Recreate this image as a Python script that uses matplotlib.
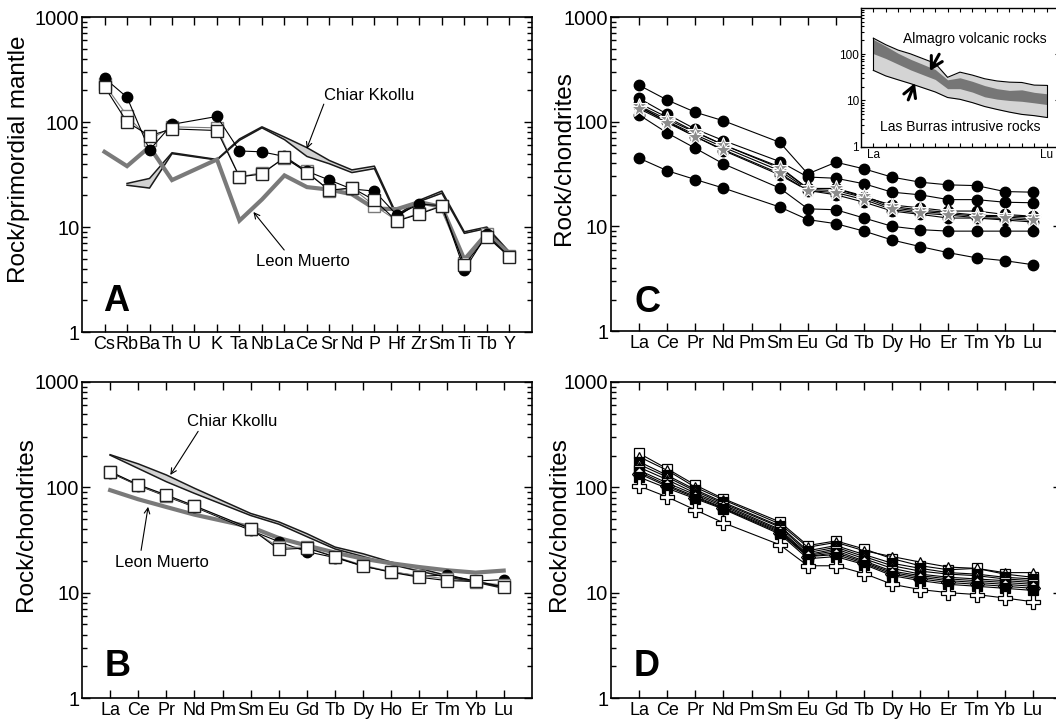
import numpy as np
import matplotlib
matplotlib.use('Agg')
import matplotlib.pyplot as plt
from matplotlib import ticker

plt.rcParams['font.family'] = ['Liberation Sans', 'DejaVu Sans']

N = np.nan

# element order on the x axes
spider_elems = ['Cs', 'Rb', 'Ba', 'Th', 'U', 'K', 'Ta', 'Nb', 'La', 'Ce',
                'Sr', 'Nd', 'P', 'Hf', 'Zr', 'Sm', 'Ti', 'Tb', 'Y']
ree_elems = ['La', 'Ce', 'Pr', 'Nd', 'Pm', 'Sm', 'Eu', 'Gd', 'Tb', 'Dy',
             'Ho', 'Er', 'Tm', 'Yb', 'Lu']

# ---- panel A : rock / primordial mantle
a_circles = [262, 172, 54, 95, N, 113, 53, 52, 47, 34, 28, 23, 22, 13, 16.5, 16, 3.9, 8.5, 5.2]
a_squares1 = [217, 100, 74, 86, N, 83, 30, 32, 46, 33, 22.4, 23.6, 18, 11.4, 13.3, 15.8, 4.35, 8.1, 5.2]
a_squares2 = [228, 115, 68, 90, N, 88, 30, 33, 45, 34, 22, 23.5, 16, 11.5, 13.5, 16, 4.5, 8.5, 5.3]
a_ck_hi = [N, 26, 29, 51, N, 44, 69, 90, 72, 57, 43, 35, 38, 13, 18, 22, 9, 10, 5.8]
a_ck_lo = [N, 25, 23.5, 50, N, 43.5, 67, 88, 68, 47, 40, 33, 36, 12.5, 17.5, 21, 8.7, 9.7, 5.6]
a_leon = [52, 38, 58, 28, N, 44, 11.5, 18.3, 31, 24, 22.7, 20.5, 15, 14.8, 17.3, 15.5, 4.9, 8.7, 5.6]

# ---- panel B : rock / chondrites
b_squares1 = [141, 106, 84.5, 66.8, N, 40.6, 25.7, 26.5, 21.8, 17.9, 15.6, 14, 13, 12.8, 11.4]
b_circles = [138, 104, 82, 65, N, 39, 30.5, 24.5, 21.5, 17.8, 15.8, 14.3, 14.7, 12.9, 13.3]
b_squares2 = [140, 105, 83, 66, N, 40, 27, 27, 22, 18.2, 15.8, 14.5, 13.5, 12.6, 11.8]
b_ck_hi = [204, 167, 131, 98, N, 56.5, 47, 36.3, 27.1, 23.4, 19.5, 17, 14.5, 12.8, 11.2]
b_ck_lo = [202, 151, 113, 87.6, N, 54, 44.7, 34, 26, 22, 18.5, 16, 14, 12.6, 11]
b_leon = [94, 77, 65, 55, N, 42, 33, 28, 24, 21, 19, 17.5, 16.3, 15.5, 16.2]

# ---- panel C : Las Burras intrusive rocks
c_circles = [
    [223, 161, 123, 102, N, 63.5, 31.7, 41, 35.4, 29.5, 26.4, 24.9, 24.5, 21.5, 21.2],
    [167, 118, 85, 66, N, 41.6, 29.6, 28.8, 25.5, 21.2, 20, 18, 18, 17, 16.8],
    [150, 110, 80, 60, N, 37, 23, 23, 19, 16, 15, 14, 14, 13, 12.5],
    [140, 100, 72, 53, N, 31, 22, 20, 17, 14, 13, 12, 12, 11.5, 11],
    [116, 78, 55.7, 39.5, N, 23.2, 14.7, 14.4, 12, 10, 9.3, 9, 9, 9, 9],
    [44.8, 34, 28, 23.2, N, 15.3, 11.6, 10.6, 9, 7.4, 6.4, 5.6, 5.0, 4.7, 4.3],
]
c_stars = [
    [137, 101, 75, 57, N, 34, 22.5, 22, 18.8, 15, 13.9, 13.2, 12.5, 12.3, 11.8],
    [142, 105, 79, 60, N, 36, 23, 23, 19.5, 15.5, 14.3, 13.6, 12.8, 12.6, 12.3],
    [133, 98, 72, 54, N, 32, 22, 21, 18, 14.5, 13.4, 12.8, 12.1, 11.9, 11.4],
]

# ---- panel D : Almagro volcanic rocks
d_series = [
    ([210, 150, 105, 78, N, 47, 28, 31, 26, 21, 18, 16.5, 17, 15, 14], 's', 'white'),
    ([195, 145, 100, 76, N, 45, 27, 30, 25, 22, 19.5, 17.5, 17, 15.5, 15.5], '^', 'white'),
    ([175, 130, 95, 72, N, 43, 25, 28, 23, 19, 17, 15.5, 15, 14, 13.5], 's', 'black'),
    ([165, 125, 92, 70, N, 42, 24, 27, 22, 18, 16, 15, 14.5, 13.5, 13], '^', 'white'),
    ([155, 118, 88, 68, N, 40, 23, 26, 21, 17, 15, 14, 13.5, 13, 12.5], '^', 'black'),
    ([145, 110, 85, 66, N, 39, 22.5, 25, 20, 16, 14.5, 13.5, 13, 12.5, 12], 's', 'white'),
    ([140, 105, 82, 64, N, 38, 22, 24, 19.5, 15.5, 14, 13, 12.5, 12, 11.5], 's', 'black'),
    ([135, 102, 80, 63, N, 37, 22, 23, 19, 15, 13.5, 12.5, 12, 11.5, 11], 'D', 'white'),
    ([125, 98, 78, 62, N, 36, 21, 22, 18.5, 14.5, 13, 12, 11.5, 11, 10.5], 's', 'black'),
]
d_cross = [103, 81, 61, 46, N, 28.5, 18, 18, 15.2, 12, 10.7, 10, 9.6, 8.9, 8.2]

GREY = '#7a7a7a'
BAND = '#d2d2d2'


def clean(vals):
    v = np.array(vals, dtype=float)
    x = np.arange(len(v))
    m = ~np.isnan(v)
    return x[m], v[m]


def line(ax, vals, **kw):
    x, v = clean(vals)
    ax.plot(x, v, **kw)


def band(ax, hi, lo, color=BAND, edge='#1a1a1a', lw=1.1):
    x, h = clean(hi)
    _, l = clean(lo)
    ax.fill_between(x, l, h, color=color, lw=0, zorder=2)
    ax.plot(x, h, color=edge, lw=lw, zorder=3)
    ax.plot(x, l, color=edge, lw=lw, zorder=3)


def style(ax, labels, ylabel, letter, letter_x, letter_y, lab_x):
    ax.set_yscale('log')
    ax.set_ylim(1, 1000)
    ax.set_xlim(-1, len(labels))
    ax.set_xticks(range(len(labels)))
    ax.set_xticklabels(labels)
    ax.yaxis.set_major_locator(ticker.FixedLocator([1, 10, 100, 1000]))
    ax.yaxis.set_major_formatter(ticker.FixedFormatter(['1', '10', '100', '1000']))
    ax.yaxis.set_minor_locator(ticker.LogLocator(base=10, subs=np.arange(2, 10)))
    ax.yaxis.set_minor_formatter(ticker.NullFormatter())
    ax.tick_params(which='both', direction='in', top=True, right=True, width=1.0)
    ax.tick_params(which='major', length=5.5)
    ax.tick_params(which='minor', length=3.5)
    ax.tick_params(axis='y', labelsize=14.5, pad=2)
    ax.tick_params(axis='x', labelsize=13, pad=3)
    for s in ax.spines.values():
        s.set_linewidth(1.2)
    ax.set_ylabel(ylabel, fontsize=17.5, va='center')
    ax.yaxis.set_label_coords(lab_x, 0.55)
    ax.text(letter_x, letter_y, letter, fontsize=26, fontweight='bold',
            ha='left', va='baseline')


def arrow(ax, head, tail, lw=0.8, style='->'):
    ax.annotate('', xy=head, xytext=tail,
                arrowprops=dict(arrowstyle=style, lw=lw, color='k',
                                shrinkA=0, shrinkB=0))


fig = plt.figure(figsize=(10.56, 7.21), dpi=100)
axA = fig.add_axes([0.0777, 0.5395, 0.4259, 0.4369])
axB = fig.add_axes([0.0777, 0.0319, 0.4259, 0.4383])
axC = fig.add_axes([0.5786, 0.5409, 0.4261, 0.4355])
axD = fig.add_axes([0.5786, 0.0319, 0.4261, 0.4383])

# ---------------- A
band(axA, a_ck_hi, a_ck_lo)
line(axA, a_leon, color=GREY, lw=3, zorder=3, solid_joinstyle='miter')
line(axA, a_squares2, color=GREY, lw=0.8, marker='s', ms=8, mfc='white',
     mec=GREY, mew=1.0, zorder=4)
line(axA, a_circles, color='k', lw=0.8, marker='o', ms=7.5, mfc='k', mec='k', zorder=5)
line(axA, a_squares1, color='k', lw=0.8, marker='s', ms=8, mfc='white',
     mec='#222222', mew=1.0, zorder=6)
axA.text(11.75, 178, 'Chiar Kkollu', fontsize=12, ha='center', va='center')
arrow(axA, (8.99, 55.6), (9.75, 148))
axA.text(8.84, 4.68, 'Leon Muerto', fontsize=12, ha='center', va='center')
arrow(axA, (6.62, 13.9), (7.99, 6.04))
style(axA, spider_elems, 'Rock/primordial mantle', 'A', -0.05, 1.57, -0.14)

# ---------------- B
band(axB, b_ck_hi, b_ck_lo)
line(axB, b_leon, color=GREY, lw=3, zorder=3)
line(axB, b_circles, color='k', lw=0.8, marker='o', ms=7.5, mfc='k', mec='k', zorder=4)
line(axB, b_squares2, color=GREY, lw=0.8, marker='s', ms=8, mfc='white',
     mec=GREY, mew=1.0, zorder=5)
line(axB, b_squares1, color='k', lw=0.8, marker='s', ms=8, mfc='white',
     mec='#222222', mew=1.0, zorder=6)
axB.text(4.35, 418, 'Chiar Kkollu', fontsize=12, ha='center', va='center')
arrow(axB, (2.14, 131), (3.13, 340))
axB.text(1.84, 19.5, 'Leon Muerto', fontsize=12, ha='center', va='center')
arrow(axB, (1.35, 65.3), (1.1, 25.2))
style(axB, ree_elems, 'Rock/chondrites', 'B', -0.18, 1.61, -0.125)

# ---------------- C
for vals in c_circles:
    line(axC, vals, color='k', lw=0.8, marker='o', ms=7.5, mfc='k', mec='k', zorder=4)
for vals in c_stars:
    line(axC, vals, color='k', lw=0.8, marker='*', ms=12, mfc='#8c8c8c',
         mec='white', mew=0.8, zorder=5)
style(axC, ree_elems, 'Rock/chondrites', 'C', -0.18, 1.53, -0.104)

# ---------------- D
for vals, mk, fc in d_series:
    line(axD, vals, color='k', lw=0.8, marker=mk, ms=7.5, mfc=fc, mec='k',
         mew=0.9, zorder=4)
line(axD, d_cross, color='k', lw=0.8, marker='P', ms=9.5, mfc='white', mec='k',
     mew=0.9, zorder=5)
style(axD, ree_elems, 'Rock/chondrites', 'D', -0.21, 1.63, -0.116)

# ---------------- inset in C
axI = fig.add_axes([0.8153, 0.7965, 0.1875, 0.1924])
axI.set_facecolor('white')
x_lb, lb_hi = clean(c_circles[0])
_, lb_lo = clean(c_circles[5])
x_al, al_hi = clean(d_series[0][0])
_, al_lo = clean(d_cross)
axI.fill_between(x_lb, lb_lo, lb_hi, color='#d4d4d4', lw=0, zorder=2)
axI.fill_between(x_al, al_lo, al_hi, color='#767676', lw=0, zorder=3)
axI.plot(x_lb, lb_hi, color='k', lw=0.8, zorder=4)
axI.plot(x_lb, lb_lo, color='k', lw=0.8, zorder=4)
axI.plot([x_lb[0], x_lb[0]], [lb_lo[0], lb_hi[0]], color='k', lw=0.8, zorder=4)
axI.plot([x_lb[-1], x_lb[-1]], [lb_lo[-1], lb_hi[-1]], color='k', lw=0.8, zorder=4)
axI.set_yscale('log')
axI.set_ylim(1, 1000)
axI.set_xlim(-1, 15)
axI.set_xticks(range(15))
axI.set_xticklabels(['La'] + [''] * 13 + ['Lu'])
axI.yaxis.set_major_locator(ticker.FixedLocator([1, 10, 100]))
axI.yaxis.set_major_formatter(ticker.FixedFormatter(['1', '10', '100']))
axI.yaxis.set_minor_locator(ticker.LogLocator(base=10, subs=np.arange(2, 10)))
axI.yaxis.set_minor_formatter(ticker.NullFormatter())
axI.tick_params(which='both', direction='in', top=True, right=True, width=0.8)
axI.tick_params(which='major', length=3)
axI.tick_params(which='minor', length=2)
axI.tick_params(labelsize=8.5, pad=1.5)
for s in axI.spines.values():
    s.set_linewidth(1.0)
axI.text(8.2, 219, 'Almagro volcanic rocks', fontsize=10, ha='center', va='center')
axI.text(7.0, 2.72, 'Las Burras intrusive rocks', fontsize=10, ha='center', va='center')
arrow(axI, (4.57, 43.4), (5.32, 100), lw=2.2, style='->,head_length=0.8,head_width=0.45')
arrow(axI, (3.36, 23.9), (2.82, 10.3), lw=2.2, style='->,head_length=0.8,head_width=0.45')

fig.savefig('out.png', dpi=100)
